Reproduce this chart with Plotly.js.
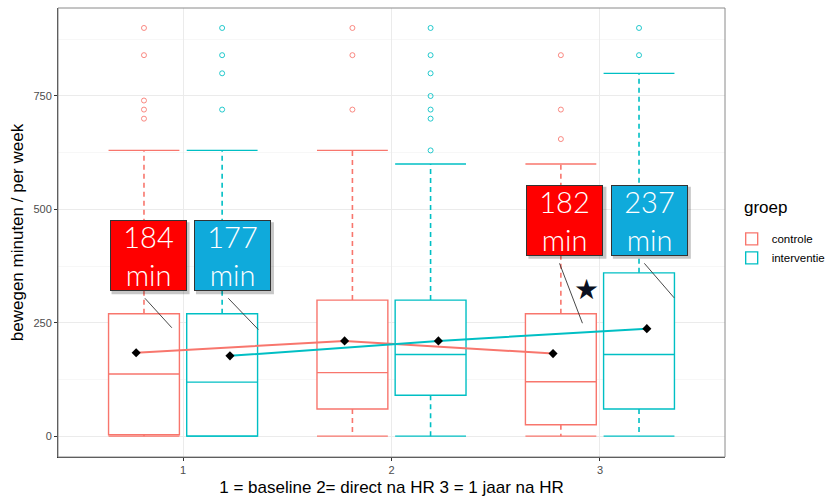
<!DOCTYPE html>
<html>
<head>
<meta charset="utf-8">
<script src="https://cdn.plot.ly/plotly-3.0.1.min.js"></script>
<style>html,body{margin:0;padding:0;background:#fff;}#chart{width:831px;height:500px;}</style>
</head>
<body>
<div id="chart"></div>
<script>
// ---- data ----
const categories = [1, 2, 3];
const tickLabels = ['1', '2', '3'];
const groups = ['controle', 'interventie'];
const legendTitle = 'groep';

const controleQ1     = [3, 60, 25];
const controleMedian = [137, 140, 120];
const controleQ3     = [270, 300, 270];
const controleLower  = [0, 0, 0];
const controleUpper  = [630, 630, 600];
const controleMean   = [184, 210, 182];
const controleOutliers = [[900, 840, 740, 720, 700], [900, 840, 720], [840, 720, 655]];

const interventieQ1     = [0, 90, 60];
const interventieMedian = [119, 180, 180];
const interventieQ3     = [270, 300, 360];
const interventieLower  = [0, 0, 0];
const interventieUpper  = [630, 600, 800];
const interventieMean   = [177, 210, 237];
const interventieOutliers = [[900, 840, 800, 720], [900, 840, 800, 750, 720, 700, 630], [900, 840]];

// which categories carry a "min" label
const labelledCategories = [0, 2];

// ---- styles ----
const colors = {controle: '#F8766D', interventie: '#00BFC4'};
const outlierColors = {controle: 'rgba(248,118,109,0.85)', interventie: 'rgba(0,191,196,0.85)'};
const labelColors = {controle: '#FF0000', interventie: '#0FAADB'};
const boxOffset = 0.1875, boxWidth = 0.34, meanOffset = 0.225;
const labelW = 77, labelH = 71;

const series = {
  controle: {q1: controleQ1, median: controleMedian, q3: controleQ3, lower: controleLower,
             upper: controleUpper, mean: controleMean, out: controleOutliers, sign: -1},
  interventie: {q1: interventieQ1, median: interventieMedian, q3: interventieQ3, lower: interventieLower,
                upper: interventieUpper, mean: interventieMean, out: interventieOutliers, sign: 1}
};

const traces = [];
const boxTraces = [], capTraces = [], outTraces = [], meanTraces = [], whiskerTraces = [];

groups.forEach(g => {
  const s = series[g];
  const pos = categories.map(c => c + s.sign * boxOffset);
  // whiskers (dashed)
  const wx = [], wy = [];
  pos.forEach((p, i) => {
    wx.push(p, p, null, p, p, null);
    wy.push(s.q3[i], s.upper[i], null, s.q1[i], s.lower[i], null);
  });
  whiskerTraces.push({type: 'scatter', mode: 'lines', x: wx, y: wy, showlegend: false, hoverinfo: 'skip',
    line: {color: colors[g], width: 1.6, dash: '5px,4px'}});
  // caps
  const cx = [], cy = [];
  pos.forEach((p, i) => {
    cx.push(p - boxWidth / 2, p + boxWidth / 2, null, p - boxWidth / 2, p + boxWidth / 2, null);
    cy.push(s.upper[i], s.upper[i], null, s.lower[i], s.lower[i], null);
  });
  capTraces.push({type: 'scatter', mode: 'lines', x: cx, y: cy, showlegend: false, hoverinfo: 'skip',
    line: {color: colors[g], width: 1.3}});
  // boxes
  boxTraces.push({type: 'box', name: g, x: pos, q1: s.q1, median: s.median, q3: s.q3,
    lowerfence: s.q1, upperfence: s.q3, width: boxWidth, boxpoints: false,
    line: {color: colors[g], width: 1.4}, fillcolor: 'rgba(255,255,255,1)', whiskerwidth: 0,
    hoverinfo: 'skip'});
  // outliers
  const ox = [], oy = [];
  s.out.forEach((arr, i) => arr.forEach(v => { ox.push(pos[i]); oy.push(v); }));
  outTraces.push({type: 'scatter', mode: 'markers', x: ox, y: oy, showlegend: false, hoverinfo: 'skip',
    marker: {symbol: 'circle-open', size: 5, color: outlierColors[g], line: {width: 1}}});
  // means
  meanTraces.push({type: 'scatter', mode: 'lines+markers', x: categories.map(c => c + s.sign * meanOffset),
    y: s.mean, showlegend: false, hoverinfo: 'skip',
    line: {color: colors[g], width: 2}, marker: {symbol: 'diamond', size: 7, color: '#000'}});
});

traces.push(...whiskerTraces, ...boxTraces, ...capTraces, ...outTraces, ...meanTraces);

// ---- annotations: labels with mean minutes ----
const labelY = {0: 398, 2: 476};
const labelDx = {controle: -0.168, interventie: 0.237};
const annotations = [];
const shapes = [];
labelledCategories.forEach(ci => {
  groups.forEach(g => {
    const s = series[g];
    const xc = categories[ci] + labelDx[g];
    const yc = labelY[ci];
    const txt = Math.round(s.mean[ci]) + '<br>min';
    // drop shadow behind the label box
    shapes.push({type: 'rect', xref: 'x', yref: 'y', xsizemode: 'pixel', ysizemode: 'pixel',
      xanchor: xc, yanchor: yc, x0: -labelW / 2 + 2, x1: labelW / 2 + 3, y0: -labelH / 2 - 3, y1: labelH / 2 - 2,
      fillcolor: 'rgba(0,0,0,0.22)', line: {width: 0}, layer: 'above'});
    annotations.push({x: xc, y: yc, xref: 'x', yref: 'y', text: txt, showarrow: false,
      font: {family: 'Lato', size: 29, color: '#ffffff', weight: 300},
      bgcolor: labelColors[g], bordercolor: '#333333', borderwidth: 1, borderpad: 1,
      width: labelW - 4, height: labelH - 4});
  });
});

// pointer lines from label to box
const pointers = [
  [0.817, 304, 0.946, 239],
  [1.217, 304, 1.361, 235],
  [2.806, 381, 2.916, 249],
  [3.213, 381, 3.356, 305]
];
pointers.forEach(p => shapes.push({type: 'line', xref: 'x', yref: 'y', x0: p[0], y0: p[1], x1: p[2], y1: p[3],
  line: {color: '#333333', width: 0.9}}));

// significance star
annotations.push({x: 2.937, y: 324, xref: 'x', yref: 'y', text: '★', showarrow: false,
  font: {family: 'DejaVu Sans', size: 28, color: '#0a1020'}});

// legend title
annotations.push({x: 1.026, y: 0.555, xref: 'paper', yref: 'paper', xanchor: 'left', yanchor: 'middle',
  text: legendTitle, showarrow: false, font: {size: 17, color: '#000'}});

// panel border
shapes.push({type: 'rect', xref: 'paper', yref: 'paper', x0: 0, y0: 0, x1: 1, y1: 1,
  line: {color: '#8a8a8a', width: 1}, layer: 'above'});

const layout = {
  width: 831, height: 500,
  margin: {l: 58, r: 106, t: 8, b: 43, autoexpand: false},
  paper_bgcolor: '#ffffff', plot_bgcolor: '#ffffff',
  font: {family: 'Liberation Sans, Arial, sans-serif', color: '#000'},
  showlegend: true,
  legend: {x: 1.01, xanchor: 'left', y: 0.518, yanchor: 'top',
    font: {size: 11.5, color: '#000'}, bgcolor: 'rgba(0,0,0,0)', tracegroupgap: 0},
  xaxis: {range: [0.4, 3.6], tickvals: categories, ticktext: tickLabels,
    showgrid: true, gridcolor: '#ebebeb', gridwidth: 1, zeroline: false,
    showline: true, linecolor: '#333', linewidth: 1, mirror: false,
    ticks: 'outside', ticklen: 3, tickcolor: '#333',
    tickfont: {size: 11, color: '#4d4d4d'},
    title: {text: '1 = baseline 2= direct na HR 3 = 1 jaar na HR', font: {size: 17, color: '#000'}, standoff: 5}},
  yaxis: {range: [-46, 944], tickvals: [0, 250, 500, 750],
    showgrid: true, gridcolor: '#ebebeb', gridwidth: 1, zeroline: false,
    minor: {tickvals: [125, 375, 625, 875], showgrid: true, gridcolor: '#f5f5f5', gridwidth: 0.8, ticks: ''},
    showline: true, linecolor: '#333', linewidth: 1,
    ticks: 'outside', ticklen: 3, tickcolor: '#333',
    tickfont: {size: 11, color: '#4d4d4d'},
    title: {text: 'bewegen minuten / per week', font: {size: 17, color: '#000'}, standoff: 5}},
  annotations: annotations,
  shapes: shapes
};

Plotly.newPlot('chart', traces, layout, {displayModeBar: false, staticPlot: true});
</script>
</body>
</html>
